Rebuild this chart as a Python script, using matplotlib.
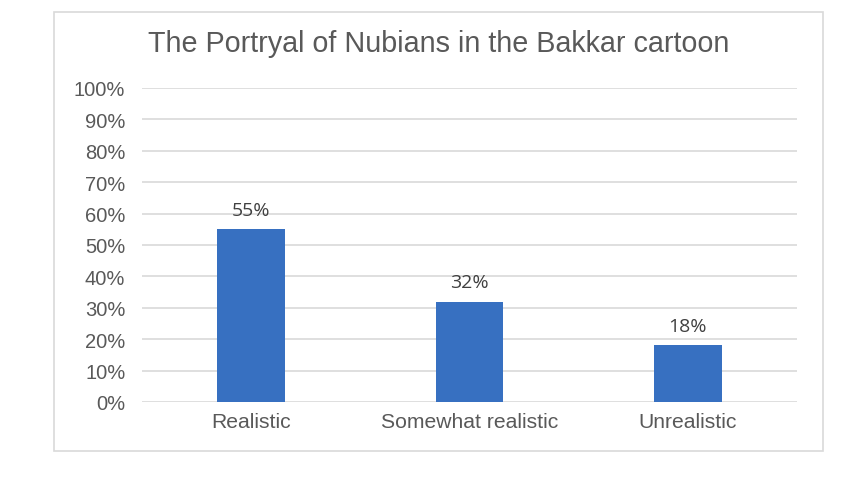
import matplotlib.pyplot as plt
from matplotlib.patches import Rectangle

categories = ["Realistic", "Somewhat realistic", "Unrealistic"]
values = [0.55, 0.32, 0.18]
labels = ["55%", "32%", "18%"]
yticks = [i / 10 for i in range(11)]
ytick_labels = [f"{i * 10}%" for i in range(11)]

bar_color = "#3770C1"
text_color = "#595959"
grid_color = "#D9D9D9"

fig = plt.figure(figsize=(8.68, 4.81), dpi=100)
fig.patches.append(Rectangle((54 / 868, 1 - 452 / 481), 769 / 868, 439 / 481,
                             transform=fig.transFigure, fill=False,
                             ec="#D9D9D9", lw=1.2))

ax = fig.add_axes([142 / 868, 1 - 403 / 481, 655 / 868, 314 / 481])
x = list(range(len(categories)))
ax.bar(x, values, width=0.31, color=bar_color, zorder=3)
for xi, v, lab in zip(x, values, labels):
    ax.text(xi, v + 0.032, lab, ha="center", va="bottom", fontsize=14,
            color="#404040", family="Open Sans")

ax.set_xlim(-0.5, 2.5)
ax.set_ylim(0, 1)
ax.set_yticks(yticks)
ax.set_yticklabels(ytick_labels, family="Liberation Sans", fontsize=14.5, color=text_color)
ax.set_xticks(x)
ax.set_xticklabels(categories, family="Liberation Sans", fontsize=15.2, color=text_color)
ax.tick_params(length=0, pad=12, axis="y")
ax.tick_params(length=0, pad=7, axis="x")
ax.grid(axis="y", color=grid_color, lw=1.2, zorder=0)
for s in ax.spines.values():
    s.set_visible(False)

fig.text(0.5 * (148 + 730) / 868, 1 - 44 / 481, "The Portryal of Nubians in the Bakkar cartoon",
         ha="center", va="center", fontsize=20.7, family="Liberation Sans", color=text_color)

fig.savefig("out.png", dpi=100)
